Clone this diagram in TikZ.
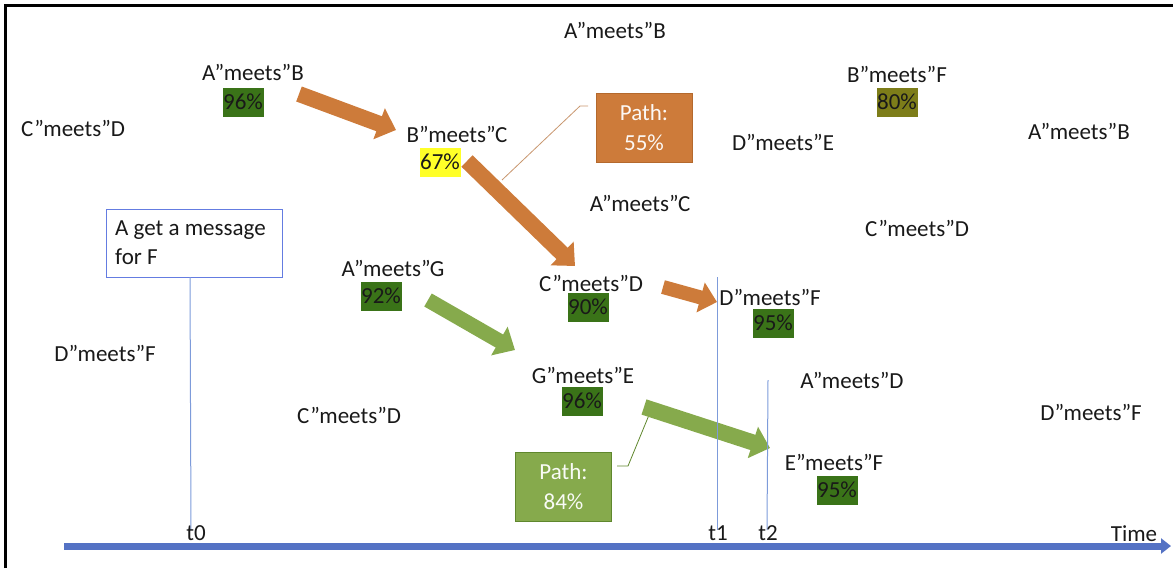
\documentclass[tikz,border=0pt]{standalone}
\usepackage{fontspec}
\setmainfont{Carlito}
\usetikzlibrary{arrows.meta}
\definecolor{orng}{RGB}{205,123,58}
\definecolor{orngdk}{RGB}{180,105,45}
\definecolor{grn}{RGB}{134,170,76}
\definecolor{grndk}{RGB}{95,135,45}
\definecolor{dkgreen}{RGB}{58,115,24}
\definecolor{olive}{RGB}{125,125,25}
\definecolor{yell}{RGB}{255,255,40}
\definecolor{lblue}{RGB}{125,155,218}
\definecolor{axisblue}{RGB}{84,114,196}
\definecolor{callor}{RGB}{200,150,110}
\tikzset{
  lbl/.style={inner sep=0pt, anchor=center, font=\fontsize{23}{27}\selectfont, text=black!90},
  pct/.style={inner sep=0pt, minimum width=41pt, minimum height=29pt, font=\fontsize{23}{27}\selectfont, text=black!90},
  pathbox/.style={inner sep=0pt, minimum width=96pt, minimum height=69pt, align=center, text=white!95!orng, font=\fontsize{23}{30}\selectfont},
  blockor/.style={draw=orng, line width=16pt, -{Triangle[width=32pt,length=18pt]}},
  blockgr/.style={draw=grn, line width=16pt, -{Triangle[width=32pt,length=18pt]}},
  tline/.style={draw=lblue, line width=1pt},
}
\begin{document}
\begin{tikzpicture}[x=1pt,y=-1pt]
\useasboundingbox (0,0) rectangle (1173,568);
% frame
\draw[line width=3pt] (5,568) -- (5,5) -- (1173,5);

% labels
\node[lbl] (ab1) at (615,30) {A”meets”B};
\node[lbl] (ab2) at (253,72) {A”meets”B};
\node[pct, fill=dkgreen] (p96a) at (243,102) {96\%};
\node[lbl] (cd1) at (73,128) {C”meets”D};
\node[lbl] (bc) at (457,134) {B”meets”C};
\node[pct, fill=yell] (p67) at (440,162) {67\%};
\node[lbl] (de) at (783,142) {D”meets”E};
\node[lbl] (bf) at (897,74) {B”meets”F};
\node[pct, fill=olive] (p80) at (897,102) {80\%};
\node[lbl] (ab3) at (1079,131) {A”meets”B};
\node[lbl] (ac) at (640,203) {A”meets”C};
\node[lbl] (cd2) at (917,228) {C”meets”D};
\node[lbl] (ag) at (393,268) {A”meets”G};
\node[pct, fill=dkgreen] (p92) at (381,296) {92\%};
\node[lbl] (cd3) at (591,283) {C”meets”D};
\node[pct, fill=dkgreen] (p90) at (588,307) {90\%};
\node[lbl] (df1) at (770,297) {D”meets”F};
\node[pct, fill=dkgreen] (p95a) at (773,323) {95\%};
\node[lbl] (df2) at (105,353) {D”meets”F};
\node[lbl] (ge) at (583,375) {G”meets”E};
\node[pct, fill=dkgreen] (p96b) at (582,401) {96\%};
\node[lbl] (cd4) at (349,415) {C”meets”D};
\node[lbl] (ad) at (852,380) {A”meets”D};
\node[lbl] (df3) at (1091,412) {D”meets”F};
\node[lbl] (ef) at (834,462) {E”meets”F};
\node[pct, fill=dkgreen] (p95b) at (837,490) {95\%};

% path boxes
\node[pathbox, fill=orng, draw=orngdk] (path55) at (644,127.5) {Path:\\55\%};
\node[pathbox, fill=grn, draw=grndk, text=white!95!grn] (path84) at (563.5,487) {Path:\\84\%};

% info box
\node[draw=lblue!80!blue, line width=0.8pt, minimum width=176pt, minimum height=68pt, inner sep=0pt] (info) at (194,243) {};
\node[anchor=west, inner sep=0pt, align=left, font=\fontsize{23}{29}\selectfont, text=black!90] (infotxt) at (115,243) {A get a message\\for F};

% callouts
\coordinate (c55a) at (588,106);
\coordinate (c55b) at (580,106);
\coordinate (c55c) at (502,180);
\draw[callor, line width=0.8pt] (c55a) -- (c55b) -- (c55c);
\coordinate (c84a) at (617,466);
\coordinate (c84b) at (628,466);
\coordinate (c84c) at (649,415);
\draw[grndk, line width=0.8pt] (c84a) -- (c84b) -- (c84c);

% block arrows
\coordinate (o1s) at (299,94);
\coordinate (o1e) at (396,130);
\coordinate (o2s) at (467,161);
\coordinate (o2e) at (575,266);
\coordinate (o3s) at (663,287);
\coordinate (o3e) at (717,302);
\coordinate (g1s) at (428,300);
\coordinate (g1e) at (515,350);
\coordinate (g2s) at (644,407);
\coordinate (g2e) at (770,448);
\draw[blockor] (o1s) -- (o1e);
\draw[blockor] (o2s) -- (o2e);
\draw[blockor, line width=14pt, -{Triangle[width=30pt,length=17pt]}] (o3s) -- (o3e);
\draw[blockgr, line width=15pt] (g1s) -- (g1e);
\draw[blockgr] (g2s) -- (g2e);

% time lines
\coordinate (t0top) at (190,277);
\coordinate (t0bot) at (191,530);
\coordinate (t1top) at (717,277);
\coordinate (t1bot) at (717,530);
\coordinate (t2top) at (768,380);
\coordinate (t2bot) at (767,530);
\draw[tline] (t0top) -- (t0bot);
\draw[tline] (t1top) -- (t1bot);
\draw[tline] (t2top) -- (t2bot);

\node[lbl] (t0) at (196,533) {t0};
\node[lbl] (t1) at (718,533) {t1};
\node[lbl] (t2) at (768,533) {t2};
\node[lbl] (time) at (1134,534) {Time};

% axis
\coordinate (axs) at (64,546);
\coordinate (axe) at (1171,546);
\draw[axisblue, line width=7pt, -{Triangle[width=15pt,length=10pt]}] (axs) -- (axe);
\end{tikzpicture}
\end{document}
